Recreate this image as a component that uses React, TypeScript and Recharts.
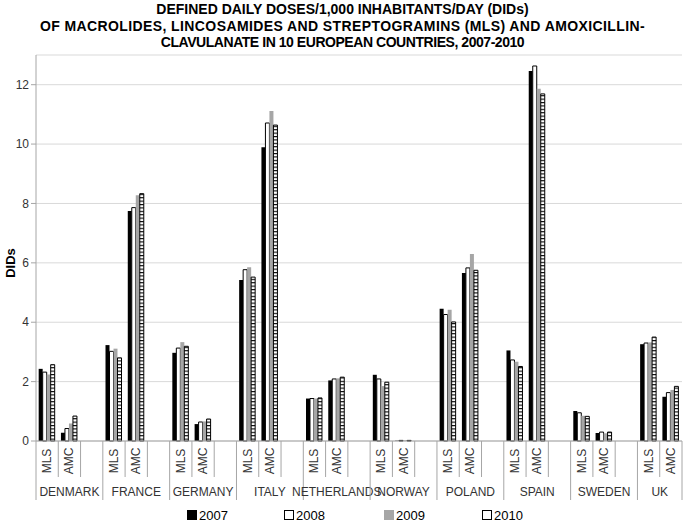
import React from 'react';
import { BarChart, Bar, XAxis, YAxis, CartesianGrid, Label } from 'recharts';

const countries = ['DENMARK', 'FRANCE', 'GERMANY', 'ITALY', 'NETHERLANDS', 'NORWAY', 'POLAND', 'SPAIN', 'SWEDEN', 'UK'];
const drugClasses = ['MLS', 'AMC'];
const years = ['2007', '2008', '2009', '2010'];

// values ordered country by country: [MLS, AMC]
const v2007 = [2.43, 0.28, 3.23, 7.75, 2.97, 0.57, 5.42, 9.89, 1.43, 2.04, 2.23, 0.01, 4.45, 5.66, 3.05, 12.46, 1.01, 0.27, 3.26, 1.49];
const v2008 = [2.32, 0.42, 3.02, 7.86, 3.13, 0.64, 5.77, 10.71, 1.43, 2.09, 2.09, 0.02, 4.26, 5.83, 2.73, 12.63, 0.95, 0.3, 3.3, 1.63];
const v2009 = [2.24, 0.59, 3.11, 8.28, 3.33, 0.66, 5.85, 11.11, 1.43, 2.11, 1.85, 0.02, 4.42, 6.3, 2.67, 11.86, 0.85, 0.26, 3.32, 1.72];
const v2010 = [2.57, 0.84, 2.8, 8.33, 3.19, 0.74, 5.52, 10.64, 1.45, 2.15, 1.98, 0.02, 4.01, 5.75, 2.51, 11.69, 0.83, 0.3, 3.5, 1.84];

const yTicks = [0, 2, 4, 6, 8, 10, 12];

const titleLines = [
  'DEFINED DAILY DOSES/1,000 INHABITANTS/DAY (DIDs)',
  'OF MACROLIDES, LINCOSAMIDES AND STREPTOGRAMINS (MLS) AND AMOXICILLIN-',
  'CLAVULANATE IN 10 EUROPEAN COUNTRIES, 2007-2010',
];
const titleSpacing = [0, 0.4, -0.45];

type Row = { key: string; country: string; cls: string; y2007: number | null; y2008: number | null; y2009: number | null; y2010: number | null };
const rows: Row[] = [];
countries.forEach((c, ci) => {
  drugClasses.forEach((d, di) => {
    const i = ci * 2 + di;
    rows.push({ key: `${c}-${d}`, country: c, cls: d, y2007: v2007[i], y2008: v2008[i], y2009: v2009[i], y2010: v2010[i] });
  });
  if (ci < countries.length - 1) {
    rows.push({ key: `${c}-gap`, country: c, cls: '', y2007: null, y2008: null, y2009: null, y2010: null });
  }
});

const FONT = '"Liberation Sans", Arial, sans-serif';
const CHART_W = 685;
const CHART_H = 522;
const MARGIN = { top: 55, right: 3, left: 0, bottom: 21 };
const Y_W = 36;
const BW = (CHART_W - MARGIN.left - MARGIN.right - Y_W) / rows.length;
const LINE = '#a6a6a6';

const legendStyles = [
  { fill: '#000', stroke: '#000' },
  { fill: '#fff', stroke: '#000' },
  { fill: '#a6a6a6', stroke: '#a6a6a6' },
  { fill: '#fff', stroke: '#000' },
];
const legendX = [187, 284, 384, 482];

function CatTick(props: any) {
  const { x, y, index } = props;
  const row = rows[index];
  if (!row) return null;
  const pos = index % 3;
  const left = x - BW / 2;
  const isLast = index === rows.length - 1;
  return (
    <g>
      <line x1={left} x2={left} y1={y} y2={y + (pos === 0 ? 59 : 36)} stroke={LINE} strokeWidth={1} />
      {isLast && <line x1={x + BW / 2} x2={x + BW / 2} y1={y} y2={y + 59} stroke={LINE} strokeWidth={1} />}
      {row.cls && (
        <text
          transform={`translate(${x},${y + 20}) rotate(-90)`}
          textAnchor="middle"
          dominantBaseline="central"
          fontSize={12}
          fontFamily={FONT}
          fill="#333"
        >
          {row.cls}
        </text>
      )}
      {pos === 1 && (
        <text
          x={isLast ? x - BW / 2 : x}
          y={y + 51}
          textAnchor="middle"
          dominantBaseline="central"
          fontSize={12}
          fontFamily={FONT}
          fill="#333"
        >
          {row.country}
        </text>
      )}
    </g>
  );
}

export default function App() {
  return (
    <div style={{ position: 'fixed', left: 0, top: 0, width: 685, height: 522, overflow: 'hidden', background: '#fff', fontFamily: FONT }}>
      <div
        style={{
          position: 'absolute',
          left: 0,
          top: 1,
          width: 685,
          textAlign: 'center',
          fontWeight: 'bold',
          fontSize: 14,
          lineHeight: '16.5px',
          color: '#000',
        }}
      >
        {titleLines.map((t, i) => (
          <div key={t} style={{ letterSpacing: titleSpacing[i] }}>
            {t}
          </div>
        ))}
      </div>
      <div style={{ position: 'absolute', left: 0, top: 0 }}>
        <BarChart width={CHART_W} height={CHART_H} data={rows} margin={MARGIN} barCategoryGap="12%" barGap={0}>
          <defs>
            <pattern id="ladder" patternUnits="userSpaceOnUse" width={4} height={3.4}>
              <rect x={0} y={0} width={4} height={3.4} fill="#fff" />
              <rect x={0} y={0} width={4} height={1.1} fill="#000" />
            </pattern>
          </defs>
          <CartesianGrid vertical={false} stroke="#d9d9d9" />
          <XAxis
            dataKey="key"
            type="category"
            interval={0}
            height={60}
            tickSize={0}
            tickMargin={0}
            tickLine={false}
            axisLine={{ stroke: LINE }}
            tick={<CatTick />}
          />
          <YAxis
            width={Y_W}
            domain={[0, 13]}
            ticks={yTicks}
            tickSize={5}
            tickMargin={2}
            axisLine={{ stroke: LINE }}
            tickLine={{ stroke: LINE }}
            tick={{ fontSize: 12, fill: '#333', fontFamily: FONT }}
          >
            <Label
              content={() => (
                <text
                  x={10}
                  y={263}
                  transform="rotate(-90 10 263)"
                  textAnchor="middle"
                  dominantBaseline="central"
                  fontWeight="bold"
                  fontSize={13}
                  fontFamily={FONT}
                  fill="#000"
                >
                  DIDs
                </text>
              )}
            />
          </YAxis>
          <Bar dataKey="y2007" name={years[0]} fill="#000" isAnimationActive={false} />
          <Bar dataKey="y2008" name={years[1]} fill="#fff" stroke="#000" strokeWidth={1} isAnimationActive={false} />
          <Bar dataKey="y2009" name={years[2]} fill="#a6a6a6" isAnimationActive={false} />
          <Bar dataKey="y2010" name={years[3]} fill="url(#ladder)" stroke="#000" strokeWidth={1} isAnimationActive={false} />
        </BarChart>
      </div>
      {years.map((yr, i) => (
        <div
          key={yr}
          style={{ position: 'absolute', left: legendX[i], top: 507, height: 16, display: 'flex', alignItems: 'center', fontSize: 13, color: '#000' }}
        >
          <svg width={10} height={10} style={{ marginRight: 2 }}>
            <rect x={0.5} y={0.5} width={9} height={9} fill={legendStyles[i].fill} stroke={legendStyles[i].stroke} strokeWidth={1} />
          </svg>
          <span>{yr}</span>
        </div>
      ))}
    </div>
  );
}
